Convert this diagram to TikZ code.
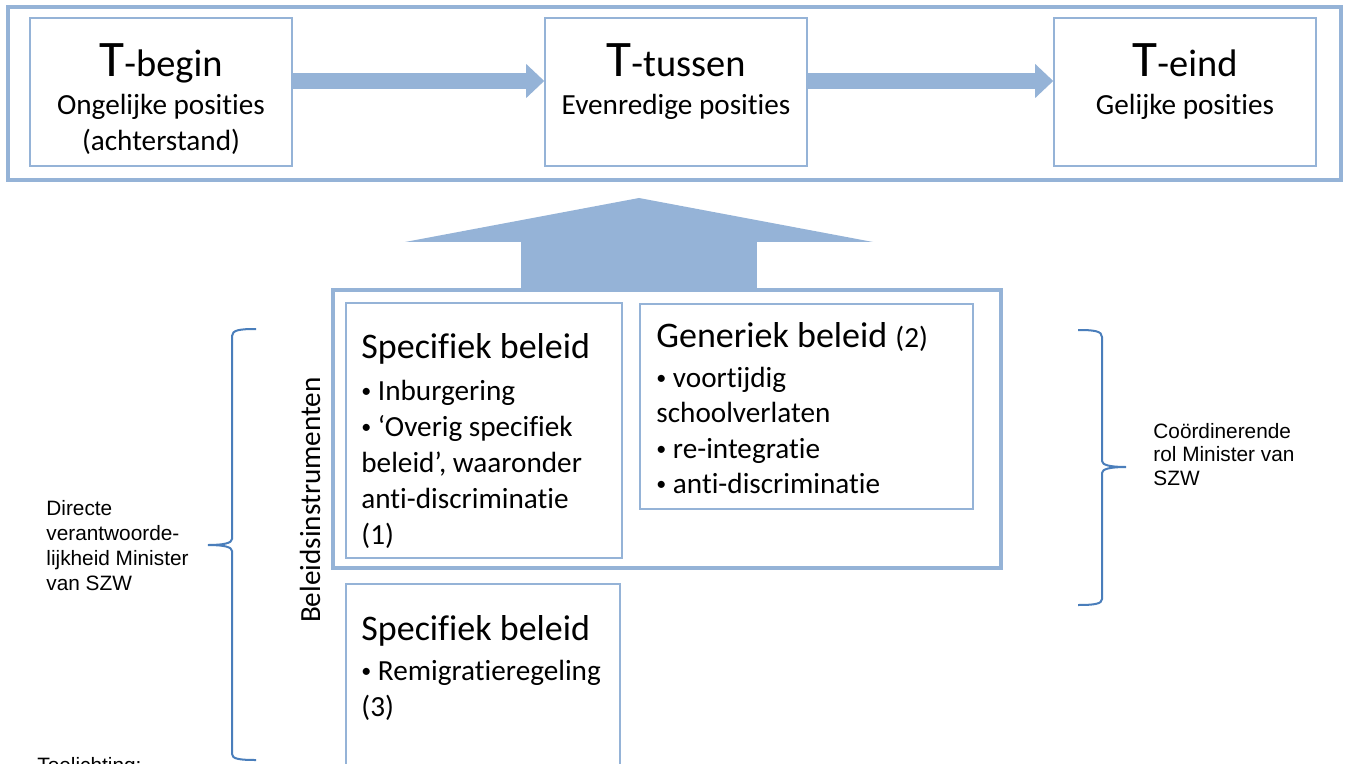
\documentclass[tikz,border=0pt]{standalone}
\usepackage{fontspec}
\setmainfont{Carlito}[Ligatures=CommonOff]
\newfontfamily\arialfont{Liberation Sans}
\usetikzlibrary{arrows.meta}
\definecolor{kader}{HTML}{95B3D7}
\definecolor{accolade}{HTML}{4A7EBB}
\newcommand{\tkop}[1]{{\fontsize{25.6}{30}\selectfont T}{\fontsize{19.2}{23}\selectfont -#1}}
\newcommand{\bul}{\raisebox{0.1em}{\fontsize{10}{10}\selectfont •}\ }

\begin{document}
\begin{tikzpicture}[x=0.5pt,y=-0.5pt,
    frame/.style={draw=kader,line width=1.8pt,inner sep=0pt},
    box/.style={draw=kader,line width=0.8pt,inner sep=0pt},
    big/.style={inner sep=0pt,anchor=base},
    sub/.style={inner sep=0pt,anchor=north,align=center,font=\fontsize{14.6}{18}\selectfont},
    head/.style={inner sep=0pt,anchor=base west,font=\fontsize{18}{22}\selectfont},
    list/.style={inner sep=0pt,anchor=north west,align=left,font=\fontsize{14.6}{18}\selectfont},
    side/.style={inner sep=0pt,anchor=north west,align=left,font=\arialfont\fontsize{10.4}{12.5}\selectfont},
    flow/.style={draw=kader,line width=8.3pt,-{Triangle[length=9pt,width=17pt,line width=0pt]}},
    upflow/.style={draw=kader,line width=118pt,-{Triangle[length=22pt,width=234pt,line width=0pt]}},
    accol/.style={draw=accolade,line width=1pt}]
  \useasboundingbox (0,0) rectangle (1347,764);
  % tijdlijn bovenaan
  \node[frame,minimum width=666.5pt,minimum height=86.5pt] (top) at (674.5,93.5) {};
  \node[box,minimum width=131pt,minimum height=74pt] (begin) at (161,92) {};
  \node[box,minimum width=131pt,minimum height=74pt] (tussen) at (676,92) {};
  \node[box,minimum width=131pt,minimum height=74pt] (eind) at (1185,92) {};
  \node[big] (tbegin) at (161,77) {\tkop{begin}};
  \node[big] (ttussen) at (676,77) {\tkop{tussen}};
  \node[big] (teind) at (1185,77) {\tkop{eind}};
  \node[sub] (obegin) at (161,94) {Ongelijke posities\\(achterstand)};
  \node[sub] (otussen) at (676,94) {Evenredige posities};
  \node[sub] (oeind) at (1185,94) {Gelijke posities};
  \draw[flow] ([yshift=5.5pt]begin.east) -- ([yshift=5.5pt]tussen.west);
  \draw[flow] ([yshift=5.5pt]tussen.east) -- ([yshift=5.5pt]eind.west);
  % beleid
  \node[frame,minimum width=334pt,minimum height=139pt] (mid) at (667,429) {};
  \node[box,minimum width=138pt,minimum height=127.5pt] (spec) at (484,430.5) {};
  \node[box,minimum width=166.5pt,minimum height=102.5pt] (gen) at (806.5,406.5) {};
  \node[box,minimum width=137pt,minimum height=108pt] (remi) at (483,692) {};
  \coordinate (punt) at (639,198);
  \draw[upflow] (mid.north -| punt) -- (punt);
  \node[head] (speckop) at (361,358) {Specifiek beleid};
  \node[list] (speclijst) at (361,380) {\bul Inburgering\\\bul ‘Overig specifiek\\beleid’, waaronder\\anti-discriminatie\\(1)};
  \node[head] (genkop) at (656,347) {Generiek beleid {\fontsize{14.6}{17}\selectfont (2)}};
  \node[list,font=\fontsize{14.6}{17.6}\selectfont] (genlijst) at (656,367) {\bul voortijdig\\schoolverlaten\\\bul re-integratie\\\bul anti-discriminatie};
  \node[head] (remikop) at (361,640) {Specifiek beleid};
  \node[list] (remilijst) at (361,660) {\bul Remigratieregeling\\(3)};
  \node[inner sep=0pt,rotate=90,font=\fontsize{14.6}{18}\selectfont] (instr) at (310,500) {Beleidsinstrumenten};
  % accolades
  \draw[accol] (256,329) .. controls (240,329) and (232,330) .. (232,336) -- (232,539)
    .. controls (232,543) and (224,545) .. (208,545) .. controls (224,545) and (232,547) .. (232,551)
    -- (232,754) .. controls (232,759) and (240,760) .. (256,760);
  \draw[accol] (1078,330) .. controls (1094,330) and (1102,331) .. (1102,337) -- (1102,461)
    .. controls (1102,465) and (1110,467) .. (1126,467) .. controls (1110,467) and (1102,469) .. (1102,473)
    -- (1102,599) .. controls (1102,604) and (1094,605) .. (1078,605);
  \node[side] (links) at (46,500) {Directe\\verantwoorde-\\lijkheid Minister\\van SZW};
  \node[side,font=\arialfont\fontsize{10.4}{11.75}\selectfont] (rechts) at (1153,423) {Coördinerende\\rol Minister van\\SZW};
  \node[side] (toel) at (37,757) {Toelichting:};
\end{tikzpicture}
\end{document}
